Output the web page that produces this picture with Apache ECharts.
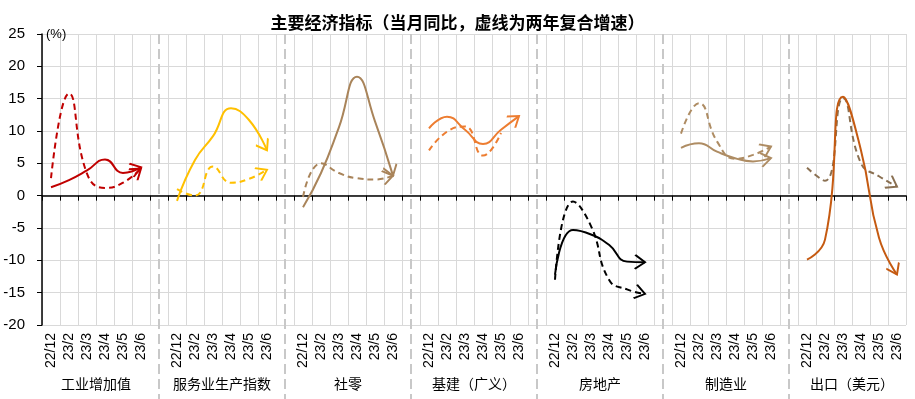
<!DOCTYPE html>
<html>
<head>
<meta charset="utf-8">
<title>主要经济指标</title>
<script src="https://cdn.jsdelivr.net/npm/echarts@6/dist/echarts.min.js"></script>
<style>
  html, body { margin: 0; padding: 0; background: #fff; }
  #main { width: 915px; height: 399px; }
</style>
</head>
<body>
<div id="main"></div>
<script>
// 月份 & 分组
var months = ['22/12', '23/2', '23/3', '23/4', '23/5', '23/6'];
var groupNames = ['工业增加值', '服务业生产指数', '社零', '基建（广义）', '房地产', '制造业', '出口（美元）'];

// 当月同比（实线）
var industryYoy = [1.3, 2.4, 3.9, 5.6, 3.5, 4.4];
var serviceYoy = [-0.8, 5.5, 9.2, 13.5, 11.7, 7.0];
var retailYoy = [-1.8, 3.5, 10.6, 18.4, 11.5, 3.1];
var infraYoy = [10.4, 12.2, 10.2, 8.0, 10.2, 12.3];
var estateYoy = [-12.2, -5.3, -6.0, -7.6, -10.2, -10.3];
var mfgYoy = [7.4, 8.1, 6.8, 5.8, 5.3, 5.8];
var exportYoy = [-9.9, -6.8, 15.3, 7.0, -6.5, -12.2];

// 两年复合增速（虚线）
var industry2y = [2.7, 15.8, 3.4, 1.2, 2.0, 4.2];
var service2y = [1.0, 0.0, 4.5, 2.0, 2.6, 4.0];
var retail2y = [-0.2, 5.0, 3.5, 2.7, 2.5, 3.1];
var infra2y = [7.0, 9.9, 10.7, 6.2, 9.7, null];
var estate2y = [-13.0, -0.9, -4.7, -13.0, -14.5, -15.2];
var mfg2y = [9.6, 14.3, 8.4, 5.7, 6.3, 7.6];
var export2y = [4.3, 2.3, 15.1, 5.0, 3.0, 1.4];

// y轴刻度
var yMin = -20, yMax = 25, yStep = 5;

var solidList = [industryYoy, serviceYoy, retailYoy, infraYoy, estateYoy, mfgYoy, exportYoy];
var dashList = [industry2y, service2y, retail2y, infra2y, estate2y, mfg2y, export2y];
var solidColors = ['#C00000', '#FFC000', '#A9845A', '#ED7D31', '#000000', '#AE8C63', '#C55A11'];
var dashColors = ['#C00000', '#FFC000', '#A9845A', '#ED7D31', '#000000', '#AE8C63', '#8A7052'];
var hasArrowDash = [true, true, true, false, true, true, true];

var ARROW = 'path://M-10,-7L0,0L-10,7M10,0L10,0.01';
var FONT_CN = '"Noto Sans CJK SC", sans-serif';
var FONT_EN = '"Liberation Sans", Arial, sans-serif';

// 类目：每组6个月，组间空一格
var categories = [];
var spacerIdx = [];
groupNames.forEach(function (g, gi) {
  months.forEach(function (m) { categories.push(m); });
  if (gi < groupNames.length - 1) {
    spacerIdx.push(categories.length);
    categories.push('');
  }
});

function makeSeries(values, gi, color, dashed, arrow) {
  var data = categories.map(function () { return null; });
  var last = -1;
  values.forEach(function (v, mi) {
    if (v !== null) { data[gi * 7 + mi] = v; last = gi * 7 + mi; }
  });
  if (arrow) {
    data[last] = {
      value: data[last],
      symbol: ARROW,
      symbolSize: [20, 14],
      symbolRotate: 0,
      itemStyle: { color: 'rgba(0,0,0,0)', borderColor: color, borderWidth: 2 }
    };
  }
  return {
    type: 'line',
    xAxisIndex: 0,
    yAxisIndex: 0,
    data: data,
    smooth: 0.5,
    symbol: 'none',
    showAllSymbol: true,
    silent: true,
    z: dashed ? 3 : 4,
    lineStyle: { color: color, width: 2, type: dashed ? [6, 4] : 'solid' },
    itemStyle: { color: color },
    _last: last
  };
}

var seriesList = [];
groupNames.forEach(function (g, gi) {
  seriesList.push(makeSeries(dashList[gi], gi, dashColors[gi], true, hasArrowDash[gi]));
  seriesList.push(makeSeries(solidList[gi], gi, solidColors[gi], false, true));
});

var chart = echarts.init(document.getElementById('main'));

chart.setOption({
  animation: false,
  backgroundColor: '#fff',
  title: {
    text: '主要经济指标（当月同比，虚线为两年复合增速）',
    left: 'center',
    top: 9,
    textStyle: { fontFamily: FONT_CN, fontSize: 17, fontWeight: 'bold', color: '#000' }
  },
  grid: { left: 42, right: 9, top: 34, bottom: 74, containLabel: false },
  xAxis: [{
    type: 'category',
    data: categories,
    boundaryGap: true,
    axisLine: { onZero: true, lineStyle: { color: '#000', width: 1.5 } },
    axisTick: { show: true, interval: 0, length: 5, lineStyle: { color: '#000' } },
    axisLabel: { show: false },
    splitLine: { show: false }
  }, {
    type: 'category',
    data: categories,
    position: 'bottom',
    boundaryGap: true,
    axisLine: { show: false, onZero: false },
    axisTick: { show: false },
    axisLabel: { interval: 0, rotate: 90, margin: 8, fontSize: 14, fontFamily: FONT_EN, color: '#000' },
    splitLine: { show: true, interval: 0, lineStyle: { color: '#d9d9d9', width: 1 } }
  }],
  yAxis: {
    type: 'value',
    min: yMin,
    max: yMax,
    interval: yStep,
    name: '(%)',
    nameLocation: 'end',
    nameGap: 0,
    nameTextStyle: { align: 'left', verticalAlign: 'middle', padding: [0, 0, 0, 4], fontSize: 13, fontFamily: FONT_EN, color: '#000' },
    axisLine: { show: true, lineStyle: { color: '#000', width: 1.5 } },
    axisTick: { show: true, length: 5, lineStyle: { color: '#000' } },
    axisLabel: { margin: 17, fontSize: 15, fontFamily: FONT_EN, color: '#000' },
    splitLine: { lineStyle: { color: '#d9d9d9', width: 1 } }
  },
  series: seriesList
});

// 箭头方向：按最后两点的像素方向旋转
seriesList.forEach(function (s) {
  var last = s._last;
  var item = s.data[last];
  if (!item || typeof item !== 'object') return;
  var prev = s.data[last - 1];
  var p1 = chart.convertToPixel({ xAxisIndex: 0, yAxisIndex: 0 }, [last - 1, prev]);
  var p2 = chart.convertToPixel({ xAxisIndex: 0, yAxisIndex: 0 }, [last, item.value]);
  item.symbolRotate = Math.atan2(-(p2[1] - p1[1]), p2[0] - p1[0]) * 180 / Math.PI;
});

// 分组虚线 & 分组名称
var topY = chart.convertToPixel({ yAxisIndex: 0 }, yMax);
var graphics = [];
spacerIdx.forEach(function (idx) {
  var x = chart.convertToPixel({ xAxisIndex: 0 }, idx);
  graphics.push({
    type: 'line', z: 1, silent: true,
    shape: { x1: x, y1: topY, x2: x, y2: 399 },
    style: { stroke: '#c8c8c8', lineWidth: 2, lineDash: [10, 5] }
  });
});
groupNames.forEach(function (g, gi) {
  var xa = chart.convertToPixel({ xAxisIndex: 0 }, gi * 7 + 2);
  var xb = chart.convertToPixel({ xAxisIndex: 0 }, gi * 7 + 3);
  graphics.push({
    type: 'text', z: 1, silent: true,
    x: (xa + xb) / 2, y: 384,
    style: { text: g, fontFamily: FONT_CN, fontSize: 14, fill: '#000', align: 'center', verticalAlign: 'middle' }
  });
});

chart.setOption({ series: seriesList, graphic: graphics });
</script>
</body>
</html>
